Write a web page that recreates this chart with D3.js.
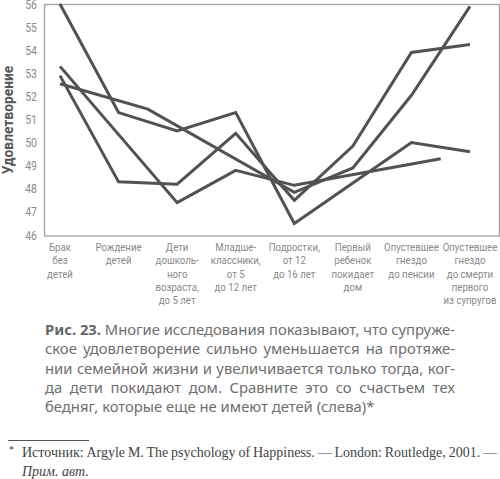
<!DOCTYPE html>
<html>
<head>
<meta charset="utf-8">
<script src="https://cdn.jsdelivr.net/npm/d3@7"></script>
<style>
  body { margin: 0; background: #fff; }
</style>
</head>
<body>
<svg id="chart" width="500" height="479"></svg>
<script>
// stages of family life, one array item per label line
var stageLabels = [
  ["Брак", "без", "детей"],
  ["Рождение", "детей"],
  ["Дети", "дошколь-", "ного", "возраста,", "до 5 лет"],
  ["Младше-", "классники,", "от 5", "до 12 лет"],
  ["Подростки,", "от 12", "до 16 лет"],
  ["Первый", "ребенок", "покидает", "дом"],
  ["Опустевшее", "гнездо", "до пенсии"],
  ["Опустевшее", "гнездо", "до смерти", "первого", "из супругов"]
];
var yTicks = [46, 47, 48, 49, 50, 51, 52, 53, 54, 55, 56];

// four studies: stage index (position along the x axis) and satisfaction
var studyAStages = [0, 1, 2, 3, 4, 6, 7];
var studyAValues = [56.0, 51.3, 50.5, 51.3, 46.5, 50.0, 49.6];

var studyBStages = [0, 2, 3, 4, 6.5];
var studyBValues = [53.3, 47.4, 48.8, 48.15, 49.3];

var studyCStages = [0, 1, 2, 3, 4, 5, 6, 7];
var studyCValues = [52.9, 48.3, 48.2, 50.4, 47.5, 49.85, 53.9, 54.25];

var studyDStages = [0, 1.5, 4, 5, 6, 7];
var studyDValues = [52.55, 51.45, 47.85, 48.9, 52.05, 55.9];

var captionLines = [
  "Многие исследования показывают, что супруже-",
  "ское удовлетворение сильно уменьшается на протяже-",
  "нии семейной жизни и увеличивается только тогда, ког-",
  "да дети покидают дом. Сравните это со счастьем тех",
  "бедняг, которые еще не имеют детей (слева)*"
];

var svg = d3.select("#chart");

var x = d3.scaleLinear().domain([0, 7]).range([60, 470]);
var y = d3.scaleLinear().domain([46, 56]).range([235, 4]);

// no narrow font installed, so squeeze Roboto a bit
var narrow = 0.84;

// frame
svg.append("rect")
  .attr("x", 44.5)
  .attr("y", 4.5)
  .attr("width", 455)
  .attr("height", 231.5)
  .attr("fill", "none")
  .attr("stroke", "#a6a6a6")
  .attr("stroke-width", 1.4);

var yAxis = svg.append("g")
  .attr("transform", "translate(44,0)")
  .call(d3.axisLeft(y).tickValues(yTicks).tickSize(0).tickPadding(7).tickFormat(d3.format("d")));
yAxis.select(".domain").remove();
yAxis.selectAll("text")
  .attr("x", -7 / narrow)
  .attr("transform", "scale(" + narrow + ",1)")
  .attr("fill", "#8a8a8a")
  .style("font-family", "Roboto, sans-serif")
  .style("font-size", "12.5px");

svg.append("text")
  .attr("transform", "translate(13,120) rotate(-90)")
  .attr("text-anchor", "middle")
  .attr("fill", "#555")
  .style("font-family", "Roboto, 'Liberation Sans', sans-serif")
  .style("font-weight", "bold")
  .style("font-size", "13.8px")
  .text("Удовлетворение");

// x labels
var xl = svg.append("g")
  .style("font-family", "Roboto, sans-serif")
  .style("font-size", "11.5px")
  .attr("fill", "#8a8a8a")
  .attr("text-anchor", "middle");

stageLabels.forEach(function(lines, i) {
  var t = xl.append("text")
    .attr("transform", "translate(" + x(i) + ",0) scale(" + narrow + ",1)");
  lines.forEach(function(s, j) {
    t.append("tspan")
      .attr("x", 0)
      .attr("y", 251 + j * 13.3)
      .text(s);
  });
});

// lines
var line = d3.line()
  .x(function(d) { return x(d[0]); })
  .y(function(d) { return y(d[1]); });

var studies = [
  [studyAStages, studyAValues],
  [studyBStages, studyBValues],
  [studyCStages, studyCValues],
  [studyDStages, studyDValues]
];

svg.append("g").selectAll("path")
  .data(studies)
  .enter()
  .append("path")
  .attr("d", function(s) { return line(d3.zip(s[0], s[1])); })
  .attr("fill", "none")
  .attr("stroke", "#525252")
  .attr("stroke-width", 3);

// caption
function justify(t, width) {
  var len = t.node().getComputedTextLength();
  var gaps = t.text().split(" ").length - 1;
  if (gaps > 0) t.attr("word-spacing", (width - len) / gaps);
}

var cap = svg.append("g")
  .style("font-family", "'Noto Sans', 'Open Sans', sans-serif")
  .style("font-size", "14.8px")
  .attr("fill", "#6e6e6e");

captionLines.forEach(function(s, i) {
  var t = cap.append("text")
    .attr("x", 45)
    .attr("y", 335 + i * 19.3);
  if (i === 0) {
    t.append("tspan").style("font-weight", "bold").attr("fill", "#666").text("Рис. 23.");
    t.append("tspan").text(" " + s);
  } else {
    t.text(s);
  }
  if (i < captionLines.length - 1) justify(t, 410);
});

// footnote
svg.append("line")
  .attr("x1", 8).attr("x2", 89)
  .attr("y1", 440.5).attr("y2", 440.5)
  .attr("stroke", "#555")
  .attr("stroke-width", 1);

var fn = svg.append("g")
  .style("font-family", "'Liberation Serif', 'DejaVu Serif', serif")
  .attr("fill", "#444");

fn.append("text")
  .attr("x", 9).attr("y", 453)
  .style("font-size", "10px")
  .text("*");

var f1 = fn.append("text")
  .attr("x", 22).attr("y", 457)
  .style("font-size", "14px")
  .text("Источник: Argyle M. The psychology of Happiness. — London: Routledge, 2001. —");
justify(f1, 475);

fn.append("text")
  .attr("x", 22).attr("y", 476)
  .style("font-size", "14px")
  .style("font-style", "italic")
  .text("Прим. авт.");
</script>
</body>
</html>
